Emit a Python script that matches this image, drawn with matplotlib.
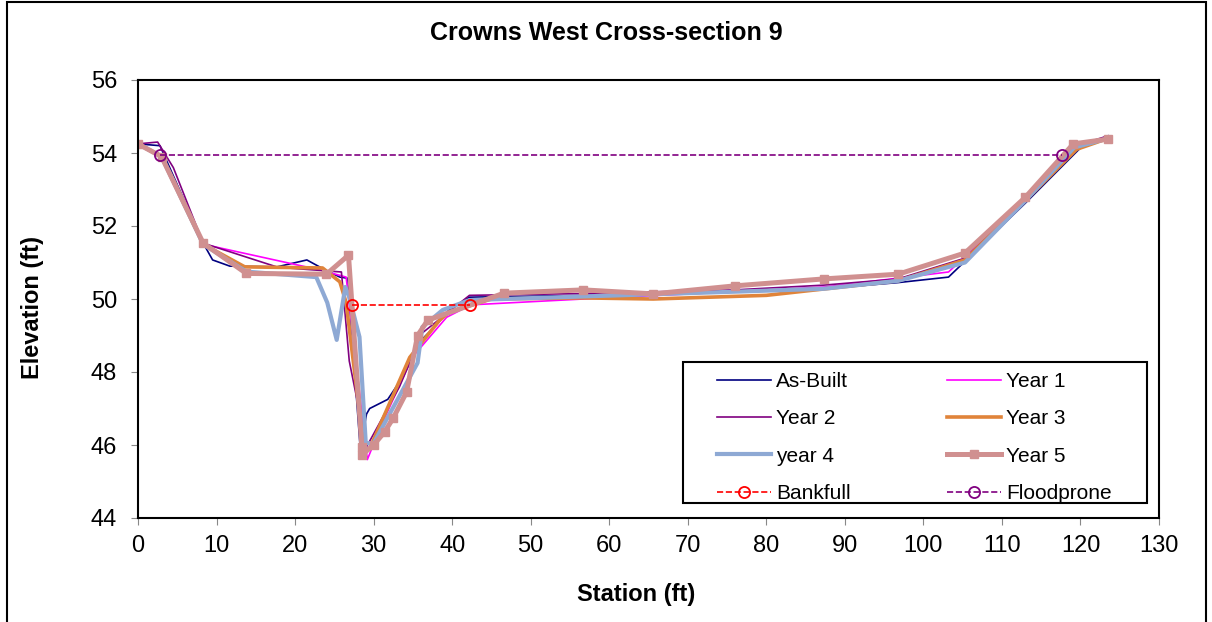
import matplotlib.pyplot as plt
from matplotlib.patches import Rectangle

plt.rcParams['font.family'] = ['Liberation Sans', 'DejaVu Sans']

# Cross-section survey data (station ft, elevation ft)
asbuilt_x = [0, 2.8, 8.3, 9.5, 11.7, 17.7, 21.5, 23.8, 25.7, 26.7, 28.3, 29.1, 29.5, 31.8, 33.7, 36.1, 38.0, 39.6, 42.2, 56.7, 76.0, 87.3, 96.8, 103.2, 113.0, 120.0, 123.5]
asbuilt_y = [54.25, 54.2, 51.53, 51.07, 50.9, 50.88, 51.07, 50.8, 50.6, 50.57, 45.9, 46.85, 47.0, 47.25, 47.86, 48.88, 49.29, 49.7, 50.05, 50.1, 50.2, 50.28, 50.45, 50.6, 52.63, 54.14, 54.47]

year1_x = [0, 3.0, 8.3, 23.1, 26.5, 29.2, 30.7, 34.9, 39.3, 42.4, 56.7, 76.0, 87.5, 103.2, 113.0, 119.7, 123.5]
year1_y = [54.25, 53.95, 51.5, 50.8, 50.6, 45.6, 46.4, 48.4, 49.5, 49.84, 50.0, 50.2, 50.33, 50.74, 52.7, 54.2, 54.45]

year2_x = [0, 2.5, 4.5, 8.3, 17.8, 25.9, 26.9, 29.1, 33.3, 36.2, 42.2, 56.7, 76.0, 87.3, 96.8, 105.3, 113.0, 119.5, 123.5]
year2_y = [54.25, 54.3, 53.6, 51.53, 50.87, 50.74, 48.3, 45.95, 47.6, 49.07, 50.1, 50.15, 50.25, 50.38, 50.55, 51.12, 52.75, 54.2, 54.47]

year3_x = [0, 3.0, 8.3, 13.6, 23.5, 25.7, 26.5, 28.8, 29.5, 34.6, 38.4, 39.6, 45.0, 56.7, 65.6, 80.0, 96.8, 105.3, 113.0, 119.5, 123.5]
year3_y = [54.25, 53.9, 51.5, 50.88, 50.85, 50.47, 49.9, 45.85, 45.9, 48.4, 49.42, 49.64, 50.0, 50.03, 50.0, 50.1, 50.5, 51.07, 52.7, 54.1, 54.4]

year4_x = [0, 3.0, 8.3, 13.8, 22.7, 24.1, 25.3, 26.4, 26.9, 28.2, 29.0, 30.0, 35.6, 36.2, 38.8, 42.2, 56.7, 76.0, 87.3, 96.8, 105.3, 113.0, 119.2, 123.5]
year4_y = [54.25, 53.9, 51.5, 50.75, 50.6, 49.9, 48.88, 50.33, 50.05, 48.96, 46.05, 46.05, 48.25, 49.23, 49.7, 49.97, 50.07, 50.2, 50.28, 50.5, 51.0, 52.7, 54.15, 54.4]

year5_x = [0, 3.0, 8.3, 13.8, 24.0, 26.8, 28.5, 28.5, 30.0, 31.4, 32.5, 34.2, 35.6, 36.9, 46.6, 56.7, 65.6, 76.0, 87.3, 96.8, 105.3, 113.0, 119.1, 123.5]
year5_y = [54.25, 53.9, 51.53, 50.7, 50.68, 51.2, 45.95, 45.73, 46.0, 46.36, 46.74, 47.45, 49.0, 49.42, 50.16, 50.25, 50.14, 50.36, 50.55, 50.68, 51.26, 52.79, 54.25, 54.38]

bankfull_x = [27.3, 42.3]
bankfull_y = [49.83, 49.83]

flood_x = [2.8, 117.7]
flood_y = [53.95, 53.95]

W, H = 1212, 622
AX_L, AX_R, AX_T, AX_B = 138, 1159, 80, 518


def ax_frac(px, py):
    # pixel position -> axes fraction
    return (px - AX_L) / (AX_R - AX_L), (AX_B - py) / (AX_B - AX_T)


fig = plt.figure(figsize=(W / 100, H / 100), dpi=100)
# chart-area border like the Excel chart object
fig.patches.append(Rectangle((7 / W, -0.02), 1199 / W, 1.02 - 2 / H, transform=fig.transFigure,
                             fill=False, edgecolor='black', lw=1.5))
ax = fig.add_axes([AX_L / W, (H - AX_B) / H, (AX_R - AX_L) / W, (AX_B - AX_T) / H])

ax.plot(asbuilt_x, asbuilt_y, color='#000080', lw=1.2, label='As-Built')
ax.plot(year1_x, year1_y, color='#FF00FF', lw=1.2, label='Year 1')
ax.plot(year2_x, year2_y, color='#800080', lw=1.2, label='Year 2')
ax.plot(year3_x, year3_y, color='#E0843A', lw=2.6, label='Year 3')
ax.plot(year4_x, year4_y, color='#8EA9D4', lw=3.0, label='year 4')
ax.plot(year5_x, year5_y, color='#D09090', lw=3.6, marker='s', ms=6, label='Year 5')
ax.plot(bankfull_x, bankfull_y, color='#FF0000', lw=1.2, ls='--', marker='o',
        ms=8, mfc='none', mew=1.3, label='Bankfull')
ax.plot(flood_x, flood_y, color='#800080', lw=1.2, ls='--', marker='o',
        ms=8, mfc='none', mew=1.3, label='Floodprone')

ax.set_xlim(0, 130)
ax.set_ylim(44, 56)
ax.set_xticks(range(0, 131, 10))
ax.set_yticks(range(44, 57, 2))
ax.tick_params(labelsize=17, direction='out', length=5, color='#888888')
ax.tick_params(axis='y', pad=10)
ax.tick_params(axis='x', pad=7)
for s in ax.spines.values():
    s.set_linewidth(1.5)

fig.text(0.5, 1 - 33 / H, 'Crowns West Cross-section 9', fontsize=18,
         fontweight='bold', ha='center', va='center')
fig.text(636 / W, 1 - 595 / H, 'Station (ft)', fontsize=17,
         fontweight='bold', ha='center', va='center')
fig.text(33 / W, 1 - 307 / H, 'Elevation (ft)', fontsize=17,
         fontweight='bold', ha='center', va='center', rotation=90)

# legend box drawn separately so the entries can sit inside with wide margins
x0, y0 = ax_frac(683, 503)
x1, y1 = ax_frac(1147, 362)
ax.add_patch(Rectangle((x0, y0), x1 - x0, y1 - y0, transform=ax.transAxes,
                       facecolor='white', edgecolor='black', lw=1.5, zorder=4.5))

# Excel fills the legend row by row
h, l = ax.get_legend_handles_labels()
order = [0, 2, 4, 6, 1, 3, 5, 7]
ax.legend([h[i] for i in order], [l[i] for i in order], ncol=2,
          loc='upper left', bbox_to_anchor=ax_frac(717, 372),
          fontsize=15, frameon=False, handlelength=2.6, handletextpad=0.25,
          borderaxespad=0, borderpad=0, labelspacing=0.88, columnspacing=4.6)

fig.savefig('out.png', dpi=100)
